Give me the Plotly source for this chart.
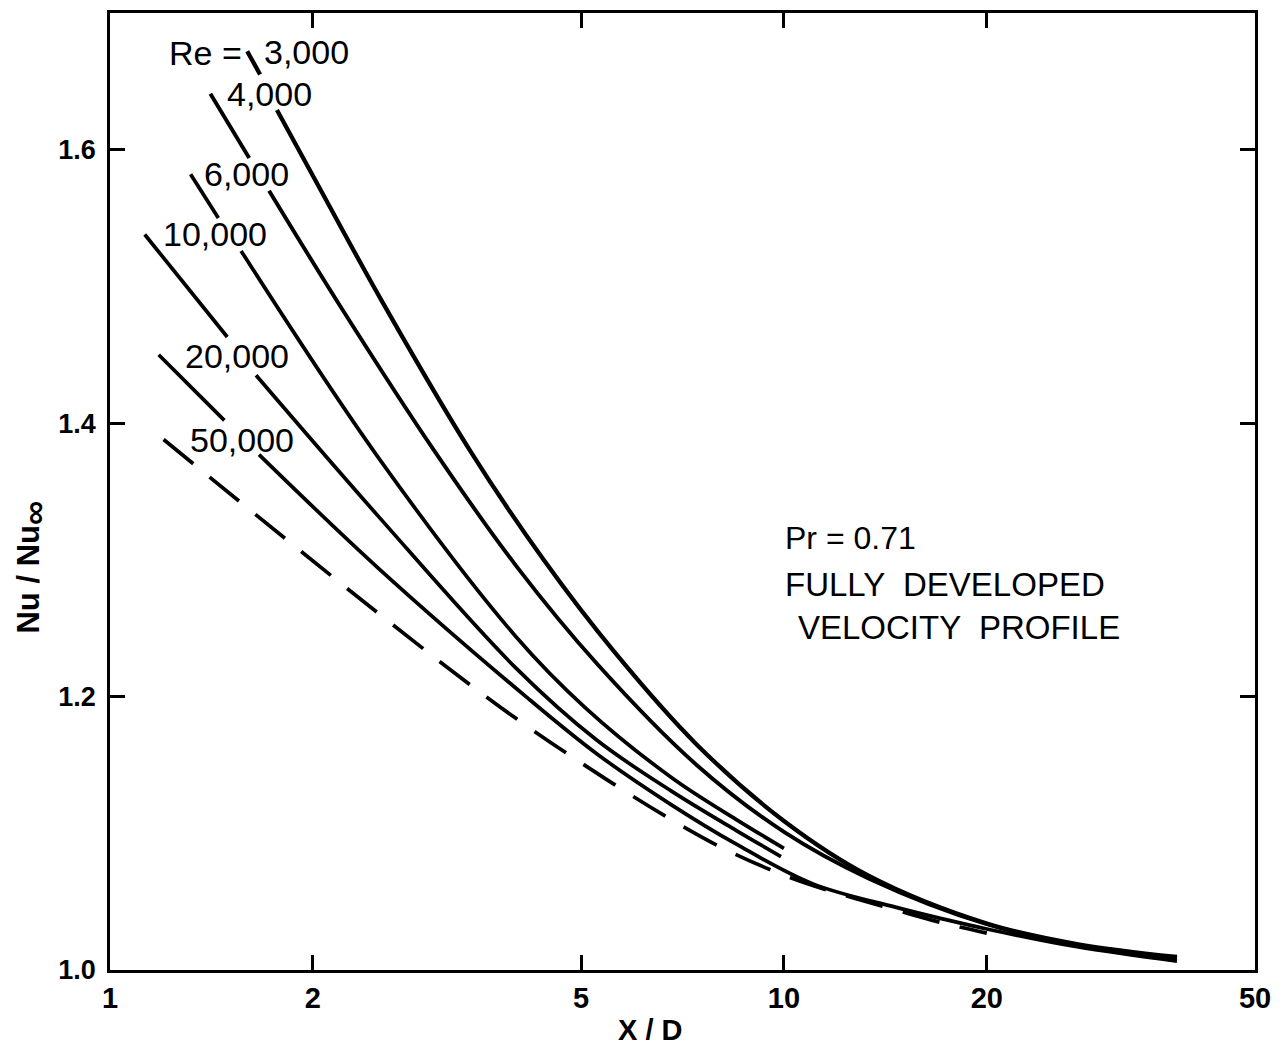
import plotly.graph_objects as go

# ---- data (x/D, Nu/Nu_inf); None = gap where a label sits ----
re_3000_x = [1.598, 1.670, None, 1.769, 2.0, 2.527, 3.431, 4.4, 5.595, 7.42, 10.0, 13.35, 20.0, 27.2, 38.3]
re_3000_y = [1.672, 1.655, None, 1.629, 1.581, 1.490, 1.379, 1.300, 1.233, 1.165, 1.109, 1.069, 1.034, 1.019, 1.0095]

re_4000_x = [1.409, 1.609, None, 1.722, 2.2, 3.036, 4.0, 5.28, 7.42, 10.0, 13.35, 20.0, 27.2, 38.3]
re_4000_y = [1.641, 1.594, None, 1.570, 1.485, 1.379, 1.296, 1.224, 1.150, 1.101, 1.067, 1.0335, 1.0185, 1.0088]

re_6000_x = [1.317, 1.448, None, 1.565, 2.5, 4.0, 5.07, 6.8, 8.5, 10.0]
re_6000_y = [1.582, 1.550, None, 1.526, 1.375, 1.244, 1.192, 1.141, 1.110, 1.089]

re_10000_x = [1.126, 1.493, None, 1.647, 2.5, 4.0, 5.28, 6.8, 8.5, 9.9]
re_10000_y = [1.538, 1.463, None, 1.435, 1.332, 1.221, 1.168, 1.131, 1.102, 1.083]

re_20000_x = [1.181, 1.478, None, 1.664, 2.5, 4.164, 5.28, 6.8, 8.5, 11.04, 14.63, 17.33, 20.0, 27.2, 38.3]
re_20000_y = [1.450, 1.402, None, 1.377, 1.294, 1.199, 1.158, 1.121, 1.092, 1.063, 1.046, 1.037, 1.030, 1.017, 1.0065]

re_50000_x = [1.201, 2.5, 3.8, 5.43, 7.14, 8.44, 10.17, 12.22, 14.63, 17.33, 20.0]
re_50000_y = [1.388, 1.261, 1.192, 1.140, 1.104, 1.085, 1.068, 1.055, 1.044, 1.034, 1.027]

x_tick_vals = [1, 2, 5, 10, 20, 50]
x_tick_text = ["1", "2", "5", "10", "20", "50"]
y_tick_vals = [1.0, 1.2, 1.4, 1.6]
y_tick_text = ["1.0", "1.2", "1.4", "1.6"]

curve_labels = ["3,000", "4,000", "6,000", "10,000", "20,000", "50,000"]

# ---- figure ----
W, H = 1281, 1052
L, R, T, B = 110, 1259, 10, 970
FONT = "Liberation Sans, Arial, sans-serif"

fig = go.Figure()

solid = [(re_3000_x, re_3000_y, 4.3), (re_4000_x, re_4000_y, 3.9),
         (re_6000_x, re_6000_y, 3.7), (re_10000_x, re_10000_y, 3.7),
         (re_20000_x, re_20000_y, 3.7)]
for xs, ys, w in solid:
    fig.add_trace(go.Scatter(x=xs, y=ys, mode="lines", connectgaps=False,
                             line=dict(color="black", width=w, shape="spline", smoothing=1.0),
                             hoverinfo="skip", showlegend=False))

fig.add_trace(go.Scatter(x=re_50000_x, y=re_50000_y, mode="lines",
                         line=dict(color="black", width=3.7, dash="38px,21px",
                                   shape="spline", smoothing=1.0),
                         hoverinfo="skip", showlegend=False))


def px(xp, yp):
    return (xp - L) / (R - L), (B - yp) / (B - T)


ann = []


def add_text(text, xp, yp, size=34, xanchor="center", angle=0, weight="normal"):
    xx, yy = px(xp, yp)
    ann.append(dict(text=text, x=xx, y=yy, xref="paper", yref="paper",
                    xanchor=xanchor, yanchor="middle", showarrow=False, textangle=angle,
                    font=dict(family=FONT, size=size, color="black", weight=weight)))


add_text("Re =", 206, 50)
label_pos = [(307, 49), (270, 91), (247, 172), (215, 232), (237, 354), (242, 438)]
for t, (xp, yp) in zip(curve_labels, label_pos):
    add_text(t, xp, yp)

add_text("Pr = 0.71", 785, 537, size=32, xanchor="left")
add_text("FULLY  DEVELOPED", 785, 583, size=33, xanchor="left")
add_text("VELOCITY  PROFILE", 798, 626, size=33, xanchor="left")
add_text("X / D", 652, 1030, size=29, weight="bold")
add_text("Nu / Nu<sub><span style='font-size:34px'>∞</span></sub>", 32, 566,
         size=31, angle=-90, weight="bold")

axis_common = dict(showgrid=False, zeroline=False, showline=True, linecolor="black",
                   linewidth=2.5, mirror="ticks", ticks="inside", ticklen=15,
                   tickwidth=2.5, tickcolor="black")

fig.update_layout(
    width=W, height=H, autosize=False,
    margin=dict(l=L, r=W - R, t=T, b=H - B),
    paper_bgcolor="white", plot_bgcolor="white",
    showlegend=False,
    annotations=ann,
    xaxis=dict(type="log", range=[0, 1.69897], tickvals=x_tick_vals, ticktext=x_tick_text,
               ticklabelstandoff=0,
               tickfont=dict(family=FONT, size=29, color="black", weight="bold"),
               **axis_common),
    yaxis=dict(range=[1.0, 1.70], tickvals=y_tick_vals, ticktext=y_tick_text,
               ticklabelstandoff=6,
               tickfont=dict(family=FONT, size=27, color="black", weight="bold"),
               **axis_common),
)

fig.write_html("out.html")
